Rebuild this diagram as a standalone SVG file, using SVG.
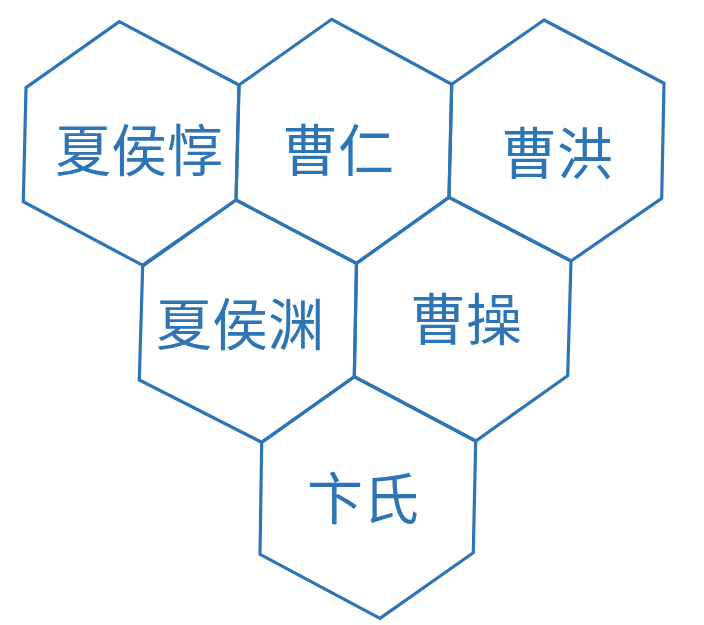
<svg xmlns="http://www.w3.org/2000/svg" width="704" height="625" viewBox="0 0 704 625">
<style>
.hex{fill:none;stroke:#2E75B6;stroke-width:3.2;stroke-linejoin:miter}
.lbl{fill:#2E75B6;font-family:"Noto Sans CJK SC","Noto Sans CJK JP",sans-serif;font-size:56px;text-anchor:middle;dominant-baseline:central}
</style>
<rect width="704" height="625" fill="#fff"/>
<g id="node-xiahoudun">
<polygon class="hex" points="119.3,21.7 239,85 236,200 143.3,265.7 23.3,201.7 26,87.7"/>
<text class="lbl" x="139" y="146">夏侯惇</text>
</g>
<g id="node-caoren">
<polygon class="hex" points="331.7,19.3 451.7,84.3 449,197.3 356.5,263.3 236,200 239,85"/>
<text class="lbl" x="338" y="146">曹仁</text>
</g>
<g id="node-caohong">
<polygon class="hex" points="544,20 664,83.3 661.7,198.3 571,261 449,197.3 451.7,84.3"/>
<text class="lbl" x="557" y="149">曹洪</text>
</g>
<g id="node-xiahouyuan">
<polygon class="hex" points="236,200 356.5,263.3 354.3,376.7 261.7,442.3 139.3,380 142.7,265"/>
<text class="lbl" x="240" y="320">夏侯渊</text>
</g>
<g id="node-caocao">
<polygon class="hex" points="449,197.3 571,261 567.7,375.7 475.7,441 354.3,376.7 356.5,263.3"/>
<text class="lbl" x="466" y="315">曹操</text>
</g>
<g id="node-bianshi">
<polygon class="hex" points="354.3,376.7 475.7,441 473.3,552.7 380,618.3 260,554.3 261.7,442.3"/>
<text class="lbl" x="363" y="494">卞氏</text>
</g>
<g id="connectors"></g>
</svg>
